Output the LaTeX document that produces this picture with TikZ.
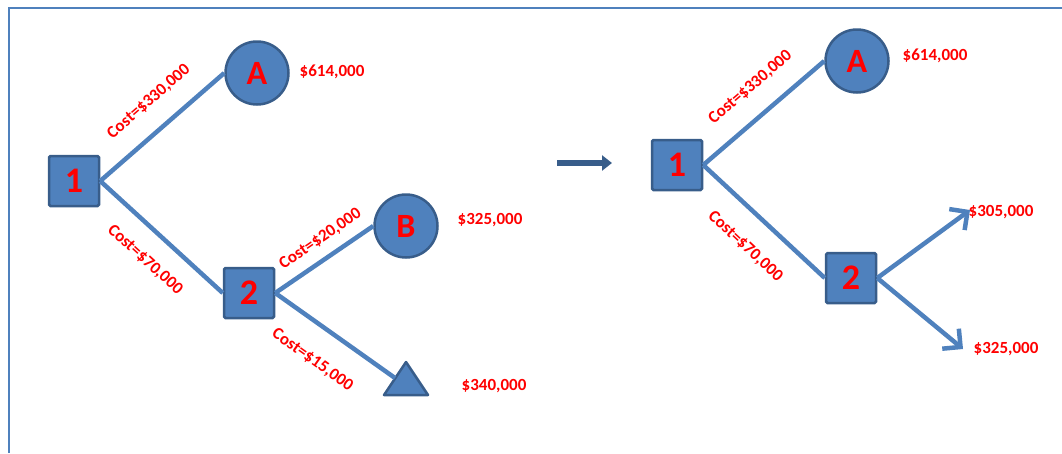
\documentclass[tikz,border=0pt]{standalone}
\usepackage{fontspec}
\setmainfont{Carlito}
\usetikzlibrary{arrows.meta}
\definecolor{boxfill}{HTML}{4F81BD}
\definecolor{boxedge}{HTML}{385D8A}
\definecolor{linkcol}{HTML}{4F81BD}
\definecolor{txtred}{HTML}{FF0000}
\tikzset{
  sq/.style={draw=boxedge, fill=boxfill, line width=2.5pt, rounded corners=1.5pt, minimum size=50pt, inner sep=0pt, text=txtred, font=\bfseries\fontsize{36}{36}\selectfont},
  circ/.style={draw=boxedge, fill=boxfill, line width=2.5pt, circle, minimum size=63pt, inner sep=0pt, text=txtred, font=\bfseries\fontsize{34}{34}\selectfont},
  link/.style={draw=linkcol, line width=4.5pt},
  linkarrow/.style={draw=linkcol, line width=4.5pt, -{Straight Barb[length=13pt,width=26pt,line width=4.5pt]}},
  cost/.style={text=txtred, font=\bfseries\fontsize{17}{17}\selectfont, sloped, inner sep=0pt},
  val/.style={text=txtred, font=\bfseries\fontsize{17}{17}\selectfont, inner sep=0pt},
  frame/.style={draw=boxfill, line width=2pt},
  bigarrow/.style={draw=boxedge, line width=5.5pt, -{Triangle[length=10pt,width=15pt]}}
}
\begin{document}
\begin{tikzpicture}[x=1pt,y=-1pt]
\useasboundingbox (0,0) rectangle (1062,453);
\draw[frame] (9,453) -- (9,8) -- (1062,8);
% left tree
\node[sq] (L1) at (74,181) {1};
\node[circ] (LA) at (257,73) {A};
\node[sq] (L2) at (249,293) {2};
\node[circ] (LB) at (406,226) {B};
\draw[draw=boxedge, fill=boxfill, line width=2.5pt, line join=round] (384,395) -- (406,362) -- (428,395) -- cycle;
\coordinate (LT) at (395,378);
\node[val] (LAv) at (332,72) {\$614,000};
\node[val] (LBv) at (490,220) {\$325,000};
\node[val] (LTv) at (494,386) {\$340,000};
\draw[link] (L1.east) -- node[cost, above=19pt, pos=0.54] {Cost=\$330,000} (LA.west);
\draw[link] (L1.east) -- node[cost, below=19pt, pos=0.52] {Cost=\$70,000} (L2.west);
\draw[link] (L2.east) -- node[cost, above=10pt, pos=0.57] {Cost=\$20,000} (LB.west);
\draw[link] (L2.east) -- node[cost, below=24pt, pos=0.47] {Cost=\$15,000} (LT);
% middle arrow
\coordinate (M1) at (557,163);
\coordinate (M2) at (612,163);
\draw[bigarrow] (M1) -- (M2);
% right tree
\node[sq] (R1) at (677,165) {1};
\node[circ] (RA) at (857,61) {A};
\node[sq] (R2) at (851,278) {2};
\coordinate (RU) at (970,210);
\coordinate (RD) at (963,349);
\node[val] (RAv) at (935,56) {\$614,000};
\node[val] (RUv) at (1001,212) {\$305,000};
\node[val] (RDv) at (1006,349) {\$325,000};
\draw[link] (R1.east) -- node[cost, above=19pt, pos=0.54] {Cost=\$330,000} (RA.west);
\draw[link] (R1.east) -- node[cost, below=22pt, pos=0.52] {Cost=\$70,000} (R2.west);
\draw[linkarrow] (R2.east) -- (RU);
\draw[linkarrow] (R2.east) -- (RD);
\end{tikzpicture}
\end{document}
